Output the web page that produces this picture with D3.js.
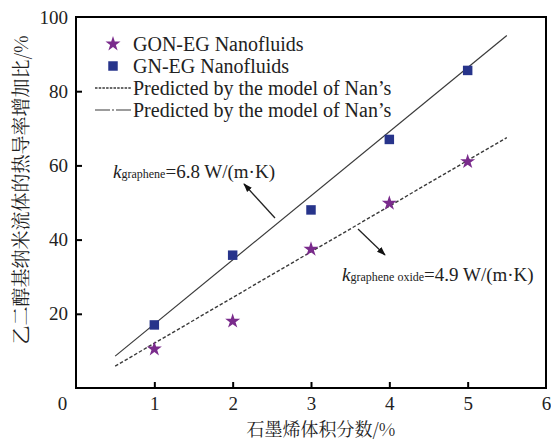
<!DOCTYPE html>
<html>
<head>
<meta charset="utf-8">
<script src="https://cdn.jsdelivr.net/npm/d3@7"></script>
</head>
<body style="margin:0;background:#fff">
<div id="chart"></div>
<script>
// volume fraction of graphene (%)
const fractions = [1, 2, 3, 4, 5];
// measured enhancement (%)
const gnValues = [17, 35.8, 48, 67, 85.6];
const gonValues = [10.5, 18, 37.4, 49.8, 61];
// Nan's model predictions (end points)
const modelX = [0.5, 5.5];
const modelGraphene = [8.6, 95];
const modelOxide = [5.9, 67.5];

const xTicks = [0, 1, 2, 3, 4, 5, 6];
const yTicks = [20, 40, 60, 80, 100];

const legendItems = [
    { label: "GON-EG Nanofluids", type: "star" },
    { label: "GN-EG Nanofluids", type: "square" },
    { label: "Predicted by the model of Nan\u2019s", type: "dash" },
    { label: "Predicted by the model of Nan\u2019s", type: "solid" }
];

const W = 551, H = 441;
const margin = { top: 17, right: 5, bottom: 53, left: 76 };
const width = W - margin.left - margin.right,
    height = H - margin.top - margin.bottom;

const purple = "#7a2b8c", navy = "#27348b", lineCol = "#3a3a3a";
const serif = "Liberation Serif";
const cjk = "Noto Serif CJK SC";

const svg = d3.select("#chart").append("svg")
    .attr("width", W).attr("height", H);

const g = svg.append("g")
    .attr("transform", `translate(${margin.left},${margin.top})`);

const x = d3.scaleLinear().domain([0, 6]).range([0, width]);
const y = d3.scaleLinear().domain([0, 100]).range([height, 0]);

// x axis, ticks pointing inward
const xAxis = g.append("g")
    .attr("transform", `translate(0,${height})`)
    .call(d3.axisBottom(x).tickValues(xTicks).tickSize(-6).tickPadding(9).tickFormat(d3.format("d")))
    .attr("font-family", serif).attr("font-size", 19);
xAxis.select(".domain").remove();
xAxis.selectAll("line").attr("stroke", "#000").attr("stroke-width", 2)
    .filter(d => d === 0 || d === 6).remove();
xAxis.selectAll("text").attr("fill", "#222");
xAxis.selectAll(".tick").filter(d => d === 0).select("text").attr("x", -14);

const yAxis = g.append("g")
    .call(d3.axisLeft(y).tickValues(yTicks).tickSize(-6).tickPadding(8))
    .attr("font-family", serif).attr("font-size", 19);
yAxis.select(".domain").remove();
yAxis.selectAll("line").attr("stroke", "#000").attr("stroke-width", 2)
    .filter(d => d === 100).remove();
yAxis.selectAll("text").attr("fill", "#222");

// frame
g.append("rect")
    .attr("width", width).attr("height", height)
    .attr("fill", "none").attr("stroke", "#000").attr("stroke-width", 2);

// model lines
const line = d3.line().x(d => x(d[0])).y(d => y(d[1]));
g.append("path")
    .attr("d", line(modelX.map((v, i) => [v, modelGraphene[i]])))
    .attr("fill", "none").attr("stroke", lineCol).attr("stroke-width", 1.2);
g.append("path")
    .attr("d", line(modelX.map((v, i) => [v, modelOxide[i]])))
    .attr("fill", "none").attr("stroke", lineCol).attr("stroke-width", 1.4)
    .attr("stroke-dasharray", "3.5,2");

const star = d3.symbol().type(d3.symbolStar).size(70);
const square = d3.symbol().type(d3.symbolSquare).size(90);

g.selectAll(".gn").data(fractions).enter().append("path")
    .attr("class", "gn")
    .attr("transform", (d, i) => `translate(${x(d)},${y(gnValues[i])})`)
    .attr("d", square).attr("fill", navy);

g.selectAll(".gon").data(fractions).enter().append("path")
    .attr("class", "gon")
    .attr("transform", (d, i) => `translate(${x(d)},${y(gonValues[i])})`)
    .attr("d", star).attr("fill", purple);

// legend
const legend = svg.append("g").attr("transform", "translate(95,44)")
    .attr("font-family", serif).attr("font-size", 20);
legendItems.forEach((item, i) => {
    const row = legend.append("g").attr("transform", `translate(0,${i * 22})`);
    if (item.type === "star") {
        row.append("path").attr("transform", "translate(18,0)").attr("d", star).attr("fill", purple);
    } else if (item.type === "square") {
        row.append("path").attr("transform", "translate(18,0)").attr("d", square).attr("fill", navy);
    } else {
        row.append("line").attr("x1", 0).attr("x2", 36).attr("y1", 0).attr("y2", 0)
            .attr("stroke", lineCol).attr("stroke-width", item.type === "dash" ? 1.3 : 1.2)
            .attr("stroke-dasharray", item.type === "dash" ? "2.5,1.2" : "15,2,2,2,15");
    }
    row.append("text").attr("x", 38).attr("y", 7)
        .attr("fill", "#222").text(item.label);
});

// annotations
function annot(tx, ty, sub, rest) {
    const t = svg.append("text").attr("x", tx).attr("y", ty)
        .attr("font-family", serif).attr("font-size", 19).attr("fill", "#222");
    t.append("tspan").attr("font-style", "italic").text("k");
    t.append("tspan").attr("font-size", 12).text(sub);
    t.append("tspan").text(rest);
}
annot(113, 178, "graphene", "=6.8 W/(m\u00b7K)");
annot(342, 281, "graphene oxide", "=4.9 W/(m\u00b7K)");

svg.append("defs").append("marker")
    .attr("id", "arrow").attr("viewBox", "0 0 10 10")
    .attr("refX", 9).attr("refY", 5)
    .attr("markerWidth", 9).attr("markerHeight", 9)
    .attr("markerUnits", "userSpaceOnUse")
    .attr("orient", "auto")
    .append("path").attr("d", "M0,1.5L10,5L0,8.5Z").attr("fill", "#111");

svg.append("line").attr("x1", 275).attr("y1", 218).attr("x2", 244).attr("y2", 184)
    .attr("stroke", "#222").attr("stroke-width", 1.3).attr("marker-end", "url(#arrow)");
svg.append("line").attr("x1", 358).attr("y1", 229).attr("x2", 385).attr("y2", 255)
    .attr("stroke", "#222").attr("stroke-width", 1.3).attr("marker-end", "url(#arrow)");

// axis titles
svg.append("text")
    .attr("transform", `translate(28,${margin.top + 173}) rotate(-90)`)
    .attr("text-anchor", "middle")
    .attr("font-family", cjk).attr("font-size", 19).attr("fill", "#222")
    .text("乙二醇基纳米流体的热导率增加比/%");

svg.append("text")
    .attr("x", 321).attr("y", 436)
    .attr("text-anchor", "middle")
    .attr("font-family", cjk).attr("font-size", 18).attr("fill", "#222")
    .text("石墨烯体积分数/%");
</script>
</body>
</html>
